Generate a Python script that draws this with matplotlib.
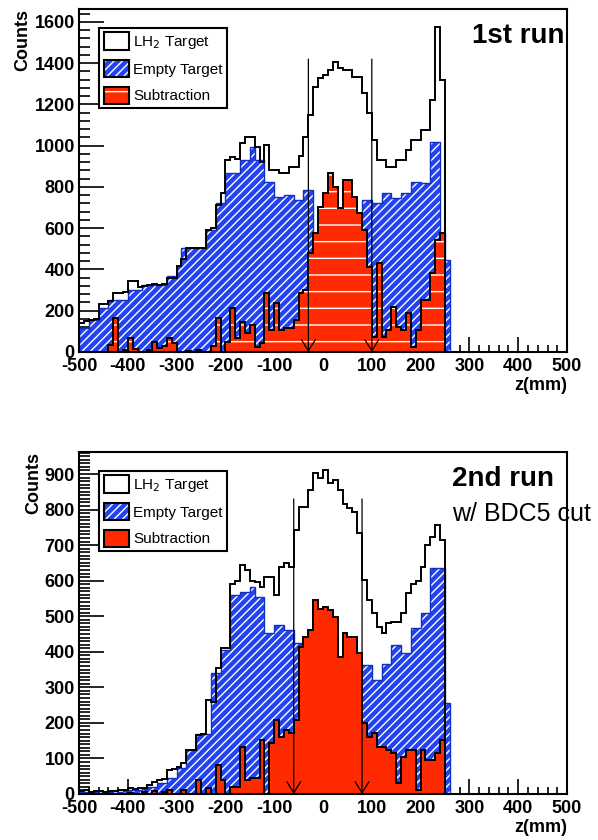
import numpy as np
import matplotlib
matplotlib.use("Agg")
import matplotlib.pyplot as plt
from matplotlib.patches import Patch
from matplotlib.ticker import MultipleLocator

plt.rcParams['font.family'] = ['Liberation Sans', 'DejaVu Sans']
plt.rcParams['axes.unicode_minus'] = False

# 10 mm bins from -500 to 260 mm
edges = np.arange(-500, 270, 10)

# ---------------- 1st run ----------------
lh2_run1 = [140, 150, 155, 160, 234, 234, 245, 285, 285, 290,
            345, 345, 315, 320, 325, 330, 325, 330, 358, 358,
            415, 450, 503, 503, 503, 503, 590, 600, 713, 770,
            930, 947, 935, 1013, 1044, 1040, 995, 920, 1002, 883,
            880, 866, 866, 899, 899, 949, 1044, 1149, 1286, 1330,
            1343, 1367, 1408, 1376, 1367, 1367, 1335, 1335, 1255, 1158,
            1028, 931, 931, 899, 899, 931, 931, 979, 1028, 1028,
            1076, 1076, 1222, 1577, 1319, 0]
empty_run1 = [116, 116, 156, 156, 213, 213, 253, 253, 253, 253,
              302, 302, 302, 326, 326, 326, 326, 326, 366, 366,
              415, 503, 503, 503, 503, 503, 592, 592, 721, 721,
              866, 866, 866, 930, 930, 995, 930, 930, 826, 826,
              753, 753, 761, 761, 737, 737, 785, 785, 575, 590,
              580, 570, 580, 590, 560, 560, 590, 610, 737, 737,
              721, 721, 769, 769, 745, 745, 769, 769, 826, 826,
              818, 818, 1020, 1020, 575, 446]
sub_run1 = [0, 0, 0, 0, 0, 0, 35, 165, 0, 10,
            68, 15, 0, 0, 10, 48, 20, 30, 68, 44,
            0, 0, 5, 0, 10, 0, 0, 30, 163, 0,
            50, 212, 66, 147, 90, 131, 26, 42, 284, 106,
            236, 106, 115, 115, 155, 284, 300, 478, 575, 704,
            769, 866, 801, 700, 834, 834, 753, 672, 591, 413,
            74, 430, 74, 106, 220, 123, 106, 187, 26, 106,
            252, 252, 381, 543, 575, 0]
cuts_run1 = [-30, 100]
cut_top_run1 = 1420

# ---------------- 2nd run ----------------
lh2_run2 = [8, 10, 6, 8, 7, 5, 9, 8, 12, 10,
            16, 14, 16, 18, 25, 35, 38, 41, 67, 70,
            77, 86, 124, 124, 166, 170, 264, 260, 353, 410,
            410, 592, 600, 644, 630, 600, 597, 583, 611, 611,
            560, 639, 649, 639, 742, 808, 808, 855, 902, 890,
            911, 874, 883, 855, 817, 805, 794, 735, 602, 546,
            508, 471, 452, 480, 485, 485, 508, 564, 592, 600,
            639, 700, 724, 757, 714, 0]
empty_run2 = [5, 5, 3, 5, 4, 3, 5, 4, 6, 8,
              10, 10, 12, 15, 21, 21, 30, 30, 44, 44,
              72, 72, 124, 124, 170, 170, 170, 339, 339, 405,
              405, 560, 560, 569, 569, 583, 555, 555, 452, 452,
              475, 475, 461, 461, 424, 424, 400, 395, 390, 385,
              390, 385, 385, 380, 375, 370, 365, 365, 363, 363,
              321, 321, 367, 367, 419, 419, 396, 396, 466, 466,
              508, 508, 635, 635, 635, 255]
sub_run2 = [0, 0, 0, 0, 0, 0, 0, 0, 0, 0,
            3, 0, 0, 5, 0, 8, 0, 5, 12, 0,
            0, 10, 0, 0, 39, 0, 16, 0, 82, 39,
            0, 21, 21, 133, 39, 44, 44, 152, 0, 142,
            208, 161, 180, 171, 208, 414, 442, 461, 546, 520,
            527, 517, 499, 386, 452, 442, 442, 396, 199, 161,
            171, 133, 133, 124, 114, 30, 105, 124, 124, 11,
            124, 96, 96, 114, 152, 0]
cuts_run2 = [-60, 80]
cut_top_run2 = 830

BLUE = "#2343f2"
RED = "#ff2a00"


def draw_panel(ax, lh2, empty, sub, cuts, cut_top, ymax, major, minor, sub_hatch):
    # empty target: blue with white diagonal hatch
    ax.stairs(empty, edges, fill=True, facecolor=BLUE, edgecolor="white",
              hatch="////", linewidth=0, zorder=2)
    ax.stairs(empty, edges, color="#1030c0", linewidth=1.0, zorder=2.1)
    # subtraction: red fill, black outline
    ax.stairs(sub, edges, fill=True, facecolor=RED, edgecolor="white",
              hatch=sub_hatch, linewidth=0, zorder=3)
    ax.stairs(sub, edges, color="black", linewidth=1.4, zorder=3.1)
    # LH2 target: black outline
    ax.stairs(lh2, edges, color="black", linewidth=1.4, zorder=4)

    for c in cuts:
        ax.annotate("", xy=(c, 0), xytext=(c, cut_top),
                    arrowprops=dict(arrowstyle="->,head_length=0.8,head_width=0.5",
                                    color="black", lw=0.9, shrinkA=0, shrinkB=0),
                    zorder=5)

    ax.set_xlim(-500, 500)
    ax.set_ylim(0, ymax)
    ax.set_axisbelow(True)
    ax.xaxis.set_major_locator(MultipleLocator(100))
    ax.xaxis.set_minor_locator(MultipleLocator(20))
    ax.yaxis.set_major_locator(MultipleLocator(major))
    ax.yaxis.set_minor_locator(MultipleLocator(minor))
    ax.tick_params(axis="both", which="both", direction="in", top=False, right=False,
                   labelsize=13, width=1.2)
    ax.tick_params(axis="y", which="major", length=18, pad=3)
    ax.tick_params(axis="y", which="minor", length=8)
    ax.tick_params(axis="x", which="major", length=11, pad=4)
    ax.tick_params(axis="x", which="minor", length=5)
    for lab in ax.get_xticklabels() + ax.get_yticklabels():
        lab.set_fontweight("bold")
    for sp in ax.spines.values():
        sp.set_linewidth(1.5)
        sp.set_zorder(6)

    ax.set_ylabel("Counts", fontsize=13, fontweight="bold", loc="top", labelpad=2)
    ax.set_xlabel("z(mm)", fontsize=13, fontweight="bold", loc="right", labelpad=2)

    h_lh2 = Patch(facecolor="white", edgecolor="black", linewidth=1.5)
    h_empty = (Patch(facecolor=BLUE, edgecolor="white", hatch="////", linewidth=0),
               Patch(facecolor="none", edgecolor="black", linewidth=1.5))
    h_sub = (Patch(facecolor=RED, edgecolor="white", hatch=sub_hatch, linewidth=0),
             Patch(facecolor="none", edgecolor="black", linewidth=1.5))
    leg = ax.legend([h_lh2, h_empty, h_sub],
                    ["LH$_2$ Target", "Empty Target", "Subtraction"],
                    loc="upper left", bbox_to_anchor=(0.041, 0.945),
                    borderaxespad=0, fancybox=False, framealpha=1,
                    edgecolor="black", fontsize=11, handlelength=1.65,
                    handleheight=1.35, labelspacing=0.6, handletextpad=0.3,
                    borderpad=0.3)
    leg.get_frame().set_linewidth(1.5)
    leg.set_zorder(7)


fig = plt.figure(figsize=(5.98, 8.40), dpi=100)
ax1 = fig.add_axes([0.1321, 0.5810, 0.8161, 0.4083])
ax2 = fig.add_axes([0.1321, 0.0548, 0.8161, 0.4071])

draw_panel(ax1, lh2_run1, empty_run1, sub_run1, cuts_run1, cut_top_run1,
           1663, 200, 40, "-")
draw_panel(ax2, lh2_run2, empty_run2, sub_run2, cuts_run2, cut_top_run2,
           962, 100, 10, None)

ax1.text(0.995, 0.96, "1st run", transform=ax1.transAxes, ha="right", va="top",
         fontsize=20, fontweight="bold")
ax2.text(0.765, 0.96, "2nd run", transform=ax2.transAxes, ha="left", va="top",
         fontsize=20, fontweight="bold")
ax2.text(0.765, 0.855, "w/ BDC5 cut", transform=ax2.transAxes, ha="left", va="top",
         fontsize=18, clip_on=False)

fig.savefig("out.png", dpi=100)
